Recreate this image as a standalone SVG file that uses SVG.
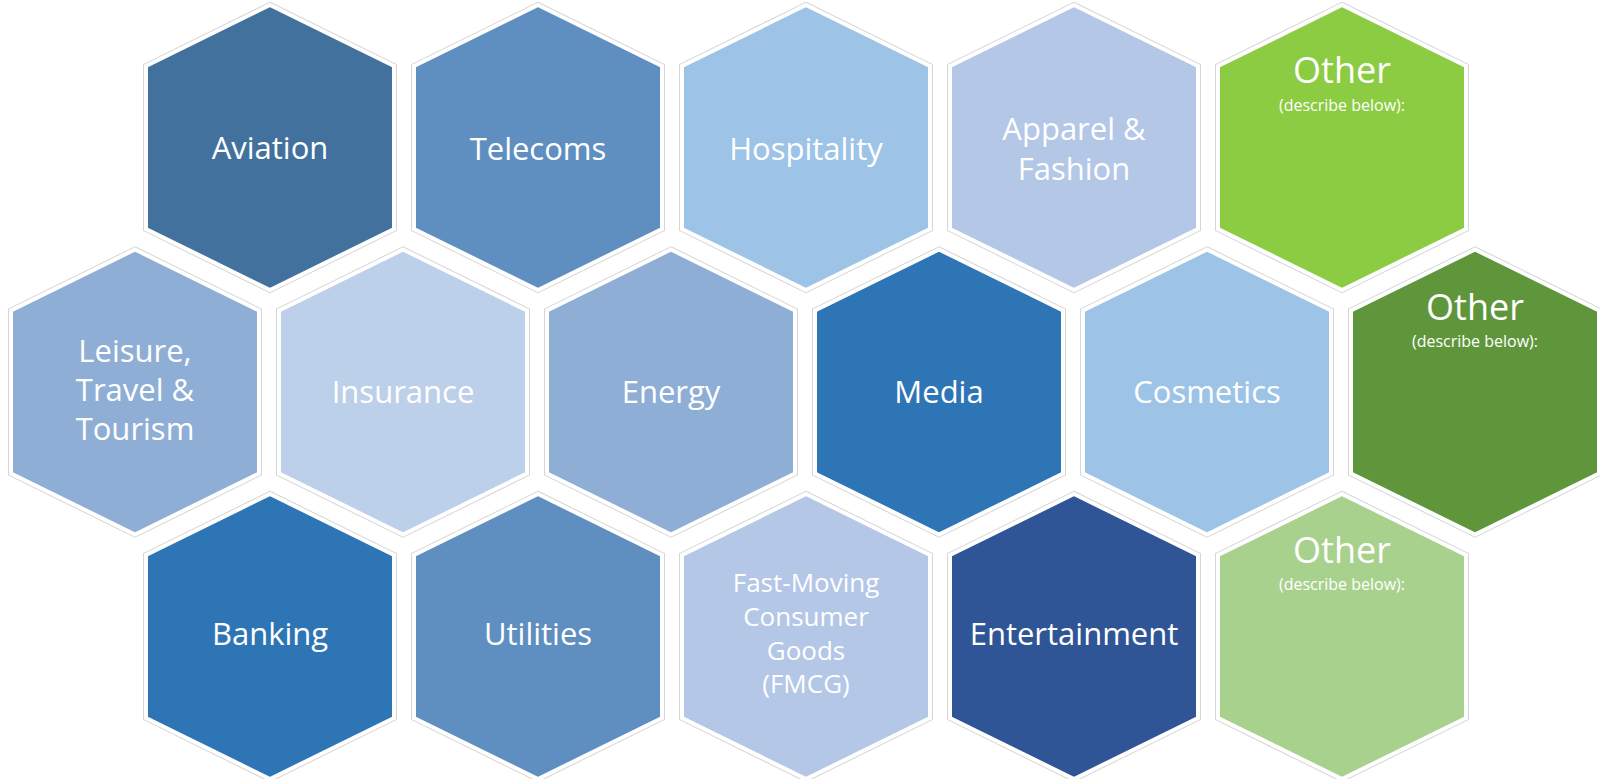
<svg xmlns="http://www.w3.org/2000/svg" xmlns:xlink="http://www.w3.org/1999/xlink" width="1600" height="779" viewBox="0 0 1600 779">
<defs>
<polygon id="hx" points="0,-142.5 124,-81.5 124,81.5 0,142.5 -124,81.5 -124,-81.5"/>
</defs>
<style>
.ol{fill:none;stroke:#d6d6d6;stroke-width:6;stroke-linejoin:miter}
.hf{stroke:#ffffff;stroke-width:4;stroke-linejoin:miter}
text{font-family:"Open Sans","Noto Sans","Liberation Sans",sans-serif;fill:#ffffff;text-anchor:middle}
.l{font-size:31px}
.m{font-size:26px}
.o{font-size:36px}
.s{font-size:16px}
</style>
<rect width="1600" height="779" fill="#ffffff"/>
<g id="aviation"><use xlink:href="#hx" href="#hx" class="ol" transform="translate(270,147.5)"/><use xlink:href="#hx" href="#hx" class="hf" fill="#41719C" transform="translate(270,147.5)"/><text class="l" x="270" y="159">Aviation</text></g>
<g id="telecoms"><use xlink:href="#hx" href="#hx" class="ol" transform="translate(538,147.5)"/><use xlink:href="#hx" href="#hx" class="hf" fill="#5F8FC0" transform="translate(538,147.5)"/><text class="l" x="538" y="160">Telecoms</text></g>
<g id="hospitality"><use xlink:href="#hx" href="#hx" class="ol" transform="translate(806,147.5)"/><use xlink:href="#hx" href="#hx" class="hf" fill="#9DC3E6" transform="translate(806,147.5)"/><text class="l" x="806" y="160">Hospitality</text></g>
<g id="apparel"><use xlink:href="#hx" href="#hx" class="ol" transform="translate(1074,147.5)"/><use xlink:href="#hx" href="#hx" class="hf" fill="#B4C7E7" transform="translate(1074,147.5)"/><text class="l" x="1074" y="140">Apparel &amp;</text><text class="l" x="1074" y="180">Fashion</text></g>
<g id="other1"><use xlink:href="#hx" href="#hx" class="ol" transform="translate(1342,147.5)"/><use xlink:href="#hx" href="#hx" class="hf" fill="#8BCC42" transform="translate(1342,147.5)"/><text class="o" x="1342" y="83">Other</text><text class="s" x="1342" y="111">(describe below):</text></g>

<g id="leisure"><use xlink:href="#hx" href="#hx" class="ol" transform="translate(135,392)"/><use xlink:href="#hx" href="#hx" class="hf" fill="#8FAED6" transform="translate(135,392)"/><text class="l" x="135" y="362">Leisure,</text><text class="l" x="135" y="401">Travel &amp;</text><text class="l" x="135" y="440">Tourism</text></g>
<g id="insurance"><use xlink:href="#hx" href="#hx" class="ol" transform="translate(403,392)"/><use xlink:href="#hx" href="#hx" class="hf" fill="#BDD0EA" transform="translate(403,392)"/><text class="l" x="403" y="403">Insurance</text></g>
<g id="energy"><use xlink:href="#hx" href="#hx" class="ol" transform="translate(671,392)"/><use xlink:href="#hx" href="#hx" class="hf" fill="#8FAED6" transform="translate(671,392)"/><text class="l" x="671" y="403">Energy</text></g>
<g id="media"><use xlink:href="#hx" href="#hx" class="ol" transform="translate(939,392)"/><use xlink:href="#hx" href="#hx" class="hf" fill="#2E75B6" transform="translate(939,392)"/><text class="l" x="939" y="403">Media</text></g>
<g id="cosmetics"><use xlink:href="#hx" href="#hx" class="ol" transform="translate(1207,392)"/><use xlink:href="#hx" href="#hx" class="hf" fill="#9DC3E6" transform="translate(1207,392)"/><text class="l" x="1207" y="403">Cosmetics</text></g>
<g id="other2"><use xlink:href="#hx" href="#hx" class="ol" transform="translate(1475,392)"/><use xlink:href="#hx" href="#hx" class="hf" fill="#5F963B" transform="translate(1475,392)"/><text class="o" x="1475" y="320">Other</text><text class="s" x="1475" y="347">(describe below):</text></g>

<g id="banking"><use xlink:href="#hx" href="#hx" class="ol" transform="translate(270,636.5)"/><use xlink:href="#hx" href="#hx" class="hf" fill="#2E75B6" transform="translate(270,636.5)"/><text class="l" x="270" y="645">Banking</text></g>
<g id="utilities"><use xlink:href="#hx" href="#hx" class="ol" transform="translate(538,636.5)"/><use xlink:href="#hx" href="#hx" class="hf" fill="#5F8FC0" transform="translate(538,636.5)"/><text class="l" x="538" y="645">Utilities</text></g>
<g id="fmcg"><use xlink:href="#hx" href="#hx" class="ol" transform="translate(806,636.5)"/><use xlink:href="#hx" href="#hx" class="hf" fill="#B4C7E7" transform="translate(806,636.5)"/><text class="m" x="806" y="592">Fast-Moving</text><text class="m" x="806" y="626">Consumer</text><text class="m" x="806" y="660">Goods</text><text class="m" x="806" y="693">(FMCG)</text></g>
<g id="entertainment"><use xlink:href="#hx" href="#hx" class="ol" transform="translate(1074,636.5)"/><use xlink:href="#hx" href="#hx" class="hf" fill="#2F5597" transform="translate(1074,636.5)"/><text class="l" x="1074" y="645">Entertainment</text></g>
<g id="other3"><use xlink:href="#hx" href="#hx" class="ol" transform="translate(1342,636.5)"/><use xlink:href="#hx" href="#hx" class="hf" fill="#A9D18E" transform="translate(1342,636.5)"/><text class="o" x="1342" y="563">Other</text><text class="s" x="1342" y="590">(describe below):</text></g>
<g id="connectors"></g>
</svg>
